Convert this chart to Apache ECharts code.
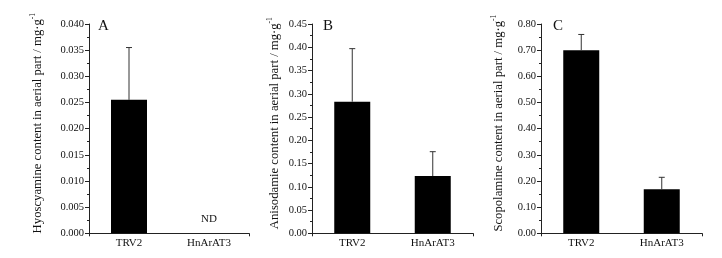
<!DOCTYPE html>
<html>
<head>
<meta charset="utf-8">
<script src="https://cdn.jsdelivr.net/npm/echarts@6/dist/echarts.min.js"></script>
<style>html,body{margin:0;padding:0;background:#fff}#c{width:722px;height:258px}</style>
</head>
<body>
<div id="c"></div>
<script>
var categories = ['TRV2', 'HnArAT3'];
var hyoMean = [0.0255, 0];
var hyoErr = [0.0100, null];
var aniMean = [0.283, 0.123];
var aniErr = [0.114, 0.0525];
var scoMean = [0.700, 0.168];
var scoErr = [0.060, 0.046];
var panelLetters = ['A', 'B', 'C'];
var yTitles = ['Hyoscyamine content in aerial part / mg·g', 'Anisodamie content in aerial part / mg·g', 'Scopolamine content in aerial part / mg·g'];
var yMax = [0.04, 0.45, 0.8];
var yInterval = [0.005, 0.05, 0.1];
var yDecimals = [3, 2, 2];

var FONT = 'Liberation Serif';
var means = [hyoMean, aniMean, scoMean];
var errs = [hyoErr, aniErr, scoErr];
var grids = [
  {left: 89, width: 160, top: 24, bottom: 24.7},
  {left: 312, width: 161, top: 24, bottom: 24.7},
  {left: 541, width: 161, top: 24, bottom: 24.7}
];
var nameGaps = [45, 31, 36];
var letterOffsets = [9, 11, 12];

var option = {
  animation: false,
  backgroundColor: '#fff',
  textStyle: {fontFamily: FONT},
  grid: grids,
  title: panelLetters.map(function (t, i) {
    return {text: t, left: grids[i].left + letterOffsets[i], top: 19, padding: 0,
      textStyle: {fontFamily: FONT, fontSize: 15, fontWeight: 'normal', color: '#111'}};
  }),
  xAxis: [],
  yAxis: [],
  series: []
};

for (var i = 0; i < 3; i++) {
  option.xAxis.push({
    type: 'category', gridIndex: i, data: categories,
    axisLine: {lineStyle: {color: '#222', width: 1}},
    axisTick: {alignWithLabel: true, length: 3, lineStyle: {color: '#222'}},
    axisLabel: {color: '#111', fontSize: 11, fontFamily: FONT, margin: 4}
  });
  option.xAxis.push({
    type: 'category', gridIndex: i, data: [''], position: 'bottom',
    axisLine: {show: false},
    axisTick: {show: true, length: 3, lineStyle: {color: '#222'}},
    axisLabel: {show: false}
  });
  (function (d) {
    option.yAxis.push({
      type: 'value', gridIndex: i, min: 0, max: yMax[i], interval: yInterval[i],
      name: '{m|' + yTitles[i] + '}{s|-1}',
      nameLocation: 'middle', nameGap: nameGaps[i], nameRotate: 90,
      nameTextStyle: {
        rich: {
          m: {fontFamily: FONT, fontSize: 12.7, color: '#111', lineHeight: 15, verticalAlign: 'bottom', padding: [0, 0, 0, 11]},
          s: {fontFamily: FONT, fontSize: 7.5, color: '#111', lineHeight: 15, verticalAlign: 'top'}
        }
      },
      splitLine: {show: false},
      axisLine: {show: true, lineStyle: {color: '#222', width: 1}},
      axisTick: {show: true, length: 4, lineStyle: {color: '#222'}},
      minorTick: {show: true, splitNumber: 2, length: 2, lineStyle: {color: '#222'}},
      axisLabel: {color: '#111', fontSize: 10.5, fontFamily: FONT, margin: 5,
        formatter: function (v) { return v.toFixed(d); }}
    });
  })(yDecimals[i]);

  option.series.push({
    type: 'bar', xAxisIndex: 2 * i, yAxisIndex: i,
    data: means[i], barWidth: 36,
    itemStyle: {color: '#000'},
    label: {show: true, position: 'top', distance: 9, fontFamily: FONT, fontSize: 11, color: '#111',
      formatter: function (p) { return p.value === 0 ? 'ND' : ''; }}
  });
  (function (m, e) {
    option.series.push({
      type: 'custom', xAxisIndex: 2 * i, yAxisIndex: i,
      data: m.map(function (v, k) { return [k, v, e[k]]; }).filter(function (d) { return d[2] != null; }),
      renderItem: function (params, api) {
        var x = api.value(0), v = api.value(1), er = api.value(2);
        var p0 = api.coord([x, v]);
        var p1 = api.coord([x, v + er]);
        var style = {stroke: '#333', lineWidth: 1};
        return {type: 'group', children: [
          {type: 'line', shape: {x1: p0[0], y1: p0[1], x2: p1[0], y2: p1[1]}, style: style},
          {type: 'line', shape: {x1: p1[0] - 3, y1: p1[1], x2: p1[0] + 3, y2: p1[1]}, style: style}
        ]};
      },
      z: 3
    });
  })(means[i], errs[i]);
}

var chart = echarts.init(document.getElementById('c'));
chart.setOption(option);
</script>
</body>
</html>
